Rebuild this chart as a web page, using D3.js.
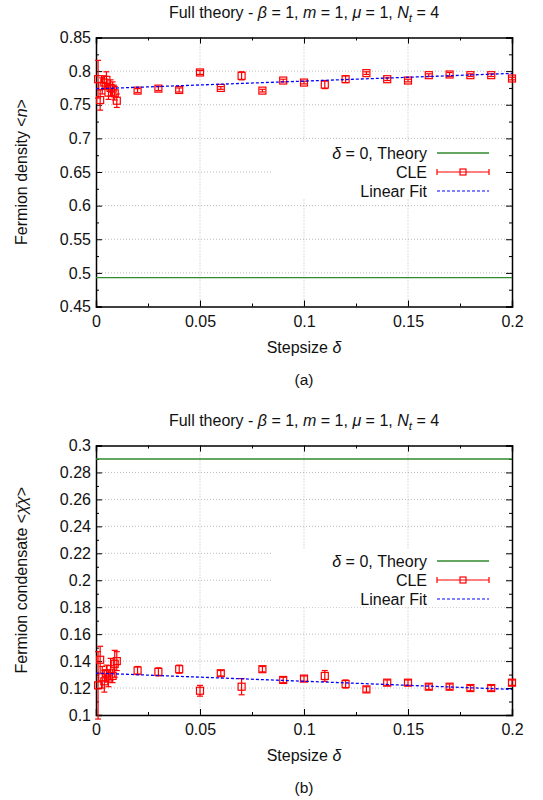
<!DOCTYPE html>
<html><head><meta charset="utf-8">
<script src="https://cdn.jsdelivr.net/npm/d3@7"></script>
<style>body{margin:0;background:#fff}svg{font-family:"Liberation Sans",Arial,Helvetica,sans-serif}</style>
</head><body><svg id="c" width="543" height="800"></svg>
<script>
// ---- data ----
const xTicks = [0, 0.05, 0.1, 0.15, 0.2];
const stepsA = [0.001,0.002,0.003,0.004,0.005,0.006,0.007,0.008,0.009,0.01,0.02,0.03,0.04,0.05,0.06,0.07,0.08,0.09,0.1,0.11,0.12,0.13,0.14,0.15,0.16,0.17,0.18,0.19,0.2];
const densityCLE = [0.788,0.757,0.778,0.783,0.787,0.768,0.775,0.774,0.767,0.756,0.771,0.774,0.772,0.798,0.775,0.793,0.771,0.786,0.783,0.780,0.788,0.797,0.788,0.786,0.794,0.795,0.794,0.794,0.789];
const densityErr = [0.028,0.015,0.012,0.010,0.012,0.010,0.012,0.010,0.010,0.010,0.003,0.003,0.003,0.003,0.002,0.006,0.002,0.002,0.002,0.006,0.005,0.002,0.002,0.002,0.002,0.003,0.002,0.002,0.002];
const densityTheory = 0.493;
const densityFit = [0.7737, 0.7966]; // at x=0 and x=0.2
const yTicksA = [0.45,0.5,0.55,0.6,0.65,0.7,0.75,0.8,0.85];

const condCLE = [0.122,0.141,0.128,0.125,0.131,0.127,0.134,0.129,0.138,0.140,0.133,0.132,0.134,0.118,0.131,0.121,0.134,0.126,0.127,0.129,0.123,0.119,0.124,0.124,0.121,0.121,0.120,0.120,0.124];
const condErr = [0.025,0.010,0.008,0.008,0.006,0.006,0.008,0.005,0.010,0.007,0.003,0.003,0.003,0.004,0.002,0.006,0.002,0.002,0.002,0.004,0.003,0.002,0.002,0.002,0.002,0.002,0.002,0.002,0.002];
const condTheory = 0.29;
const condFit = [0.1311, 0.1190];
const yTicksB = [0.1,0.12,0.14,0.16,0.18,0.2,0.22,0.24,0.26,0.28,0.3];

const svg = d3.select("#c");
const GREEN = "#2f8a2f", RED = "#ff0000", BLUE = "#0000ff";
const FS = 16;

function titleText(g, x, y){
  const t = g.append("text").attr("x",x).attr("y",y).attr("text-anchor","middle").attr("font-size",FS).attr("fill","#111");
  t.append("tspan").text("Full theory - ");
  t.append("tspan").attr("font-style","italic").text("β");
  t.append("tspan").text(" = 1, ");
  t.append("tspan").attr("font-style","italic").text("m");
  t.append("tspan").text(" = 1, ");
  t.append("tspan").attr("font-style","italic").text("μ");
  t.append("tspan").text(" = 1, ");
  t.append("tspan").attr("font-style","italic").text("N");
  t.append("tspan").attr("font-style","italic").attr("font-size",11.5).attr("dy",4).text("t");
  t.append("tspan").attr("dy",-4).text(" = 4");
}

function panel(opt){
  const L=96, R=512, T=opt.top, B=opt.bottom;
  const x = d3.scaleLinear().domain([0,0.2]).range([L,R]);
  const y = d3.scaleLinear().domain(opt.yDomain).range([B,T]);
  const g = svg.append("g");
  // grid
  const grid = g.append("g").attr("stroke","#bbb").attr("stroke-width",1).attr("stroke-dasharray","1,2");
  xTicks.slice(1,-1).forEach(v=>grid.append("line").attr("x1",x(v)).attr("x2",x(v)).attr("y1",T).attr("y2",B));
  opt.yTicks.slice(1,-1).forEach(v=>grid.append("line").attr("x1",L).attr("x2",R).attr("y1",y(v)).attr("y2",y(v)));
  // axes with inward ticks on all sides
  const fmt = d=>d3.format("")(+d.toFixed(3));
  g.append("g").attr("transform",`translate(0,${B})`).call(d3.axisBottom(x).tickValues(xTicks).tickSize(-6).tickPadding(9).tickFormat(fmt));
  g.append("g").attr("transform",`translate(0,${T})`).call(d3.axisTop(x).tickValues(xTicks).tickSize(-6).tickFormat(""));
  g.append("g").attr("transform",`translate(${L},0)`).call(d3.axisLeft(y).tickValues(opt.yTicks).tickSize(-6).tickPadding(5).tickFormat(fmt));
  g.append("g").attr("transform",`translate(${R},0)`).call(d3.axisRight(y).tickValues(opt.yTicks).tickSize(-6).tickFormat(""));
  // minor ticks
  const xMinor = d3.range(0.025,0.2,0.05);
  g.append("g").attr("transform",`translate(0,${B})`).call(d3.axisBottom(x).tickValues(xMinor).tickSize(-3).tickFormat("")).select(".domain").remove();
  g.append("g").attr("transform",`translate(0,${T})`).call(d3.axisTop(x).tickValues(xMinor).tickSize(-3).tickFormat("")).select(".domain").remove();
  g.append("g").attr("transform",`translate(${L},0)`).call(d3.axisLeft(y).tickValues(opt.yMinor).tickSize(-3).tickFormat("")).select(".domain").remove();
  g.append("g").attr("transform",`translate(${R},0)`).call(d3.axisRight(y).tickValues(opt.yMinor).tickSize(-3).tickFormat("")).select(".domain").remove();
  g.selectAll(".domain").attr("stroke","#000").attr("stroke-width",1.5);
  g.selectAll(".tick line").attr("stroke","#000");
  g.selectAll(".tick text").attr("font-size",FS).attr("fill","#111").attr("font-family","Liberation Sans, Arial, sans-serif");

  // legend (white box covering grid)
  const lg = g.append("g");
  lg.append("rect").attr("x",272).attr("y",opt.legY-12).attr("width",233).attr("height",58).attr("fill","#fff");
  const labels = ["Theory","CLE","Linear Fit"];
  [0,1,2].forEach(i=>{
    const yy = opt.legY + i*19;
    const t = lg.append("text").attr("x",427).attr("y",yy+5.5).attr("text-anchor","end").attr("font-size",FS).attr("fill","#111");
    if(i===0){ t.append("tspan").attr("font-style","italic").text("δ"); t.append("tspan").text(" = 0, Theory"); }
    else t.text(labels[i]);
  });
  const s0=437, s1=489, ly=opt.legY;
  lg.append("line").attr("x1",s0).attr("x2",s1).attr("y1",ly).attr("y2",ly).attr("stroke",GREEN).attr("stroke-width",1.4);
  lg.append("line").attr("x1",s0).attr("x2",s1).attr("y1",ly+19).attr("y2",ly+19).attr("stroke",RED).attr("stroke-width",1.2);
  [s0,s1].forEach(sx=>lg.append("line").attr("x1",sx).attr("x2",sx).attr("y1",ly+16).attr("y2",ly+22).attr("stroke",RED).attr("stroke-width",1.2));
  lg.append("rect").attr("x",(s0+s1)/2-3).attr("y",ly+16).attr("width",6).attr("height",6).attr("fill","none").attr("stroke",RED).attr("stroke-width",1.2);
  lg.append("line").attr("x1",s0).attr("x2",s1).attr("y1",ly+38).attr("y2",ly+38).attr("stroke",BLUE).attr("stroke-width",1.1).attr("stroke-dasharray","3,2");

  // theory line
  g.append("line").attr("x1",L).attr("x2",R).attr("y1",y(opt.theory)).attr("y2",y(opt.theory)).attr("stroke",GREEN).attr("stroke-width",1.4);
  // data
  const pts = stepsA.map((s,i)=>({s, v:opt.vals[i], e:opt.errs[i]}));
  const dg = g.append("g").attr("stroke",RED).attr("fill","none").attr("stroke-width",1.2);
  pts.forEach(p=>{
    const px=x(p.s);
    dg.append("line").attr("x1",px).attr("x2",px).attr("y1",y(p.v-p.e)).attr("y2",y(p.v+p.e));
    dg.append("line").attr("x1",px-3).attr("x2",px+3).attr("y1",y(p.v-p.e)).attr("y2",y(p.v-p.e));
    dg.append("line").attr("x1",px-3).attr("x2",px+3).attr("y1",y(p.v+p.e)).attr("y2",y(p.v+p.e));
    dg.append("rect").attr("x",px-3.5).attr("y",y(p.v)-3.5).attr("width",7).attr("height",7);
  });
  // fit
  g.append("line").attr("x1",x(0)).attr("x2",x(0.2)).attr("y1",y(opt.fit[0])).attr("y2",y(opt.fit[1])).attr("stroke",BLUE).attr("stroke-width",1.3).attr("stroke-dasharray","3,2");

  // titles
  titleText(svg, 304, opt.top-20);
  const xl = svg.append("text").attr("x",304).attr("y",B+46).attr("text-anchor","middle").attr("font-size",FS).attr("fill","#111");
  xl.append("tspan").text("Stepsize ");
  xl.append("tspan").attr("font-style","italic").text("δ");
  svg.append("text").attr("x",304).attr("y",B+78).attr("text-anchor","middle").attr("font-size",15.5).attr("fill","#111").text(opt.tag);
  const yt = svg.append("text").attr("transform",`translate(27,${(T+B)/2}) rotate(-90)`).attr("text-anchor","middle").attr("font-size",FS).attr("fill","#111");
  opt.ylab(yt);
}

panel({top:37.5, bottom:306.5, yDomain:[0.45,0.85], yTicks:yTicksA, yMinor:d3.range(0.475,0.85,0.05),
  vals:densityCLE, errs:densityErr, theory:densityTheory, fit:densityFit, legY:153, tag:"(a)",
  ylab:t=>{ t.append("tspan").text("Fermion density <"); t.append("tspan").attr("font-style","italic").text("n"); t.append("tspan").text(">"); }});
panel({top:445.5, bottom:715, yDomain:[0.1,0.3], yTicks:yTicksB, yMinor:d3.range(0.11,0.3,0.02),
  vals:condCLE, errs:condErr, theory:condTheory, fit:condFit, legY:561, tag:"(b)",
  ylab:t=>{ t.append("tspan").text("Fermion condensate <"); t.append("tspan").attr("font-style","italic").text("χ\u0304χ"); t.append("tspan").text(">"); }});
</script></body></html>
